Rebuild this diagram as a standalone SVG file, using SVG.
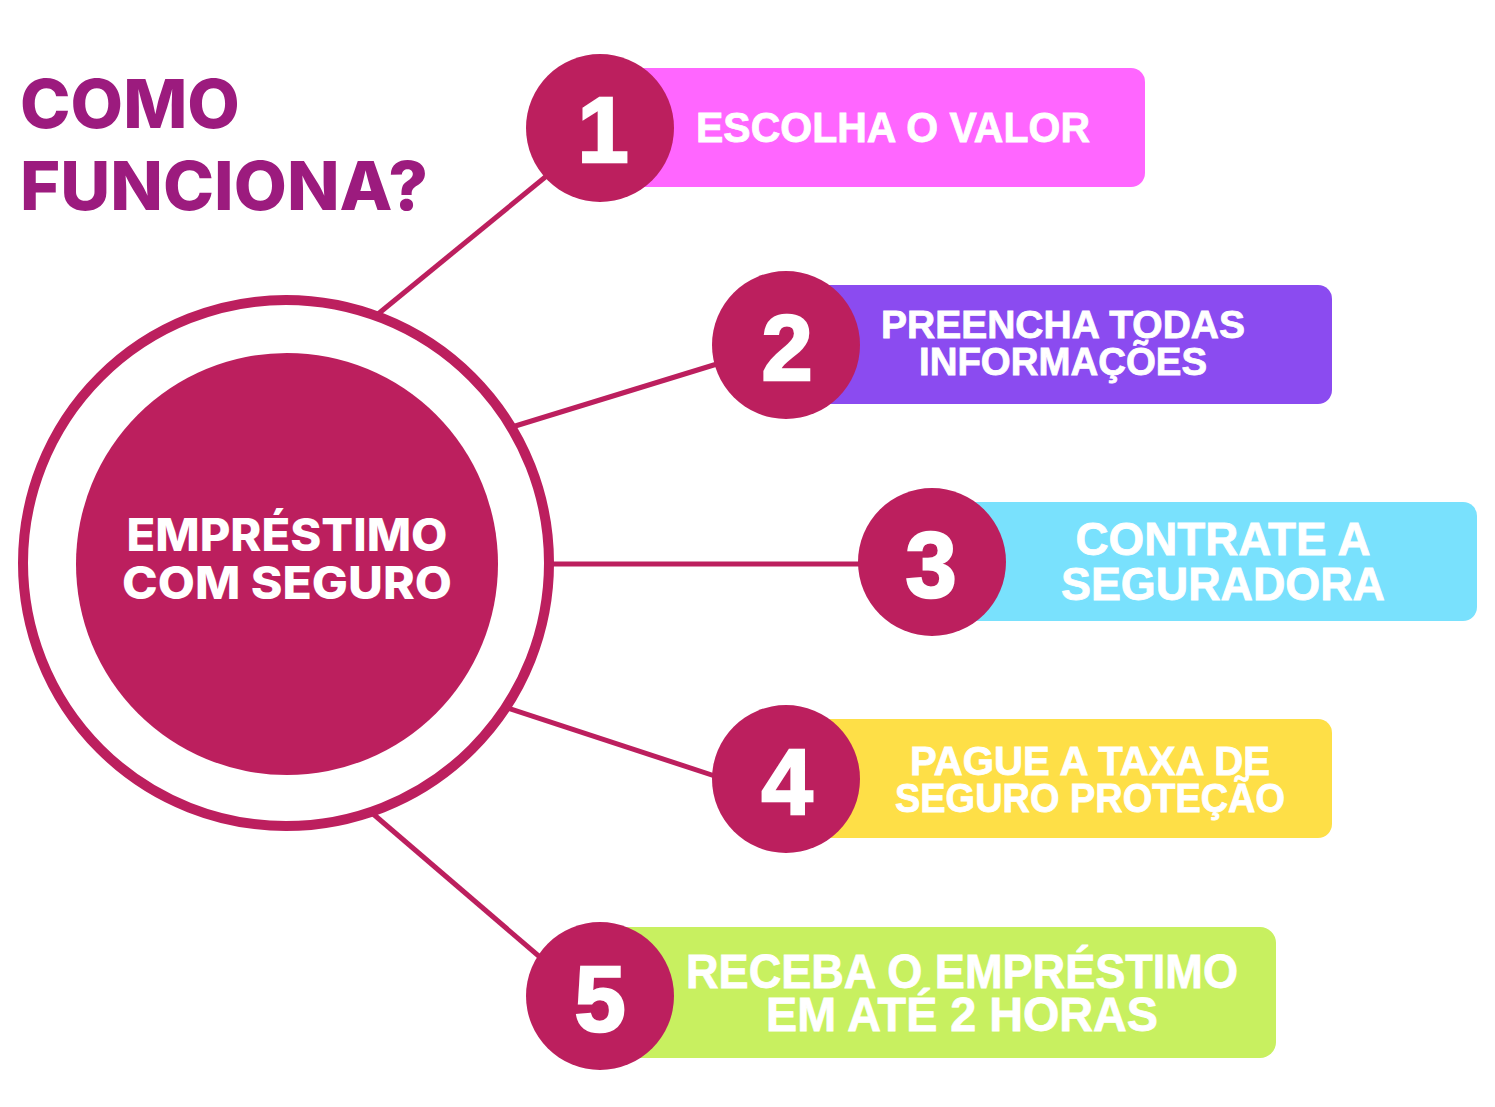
<svg xmlns="http://www.w3.org/2000/svg" width="1495" height="1107" viewBox="0 0 1495 1107">
<style>
.title{font-family:Inter,"Open Sans","Liberation Sans",sans-serif;font-weight:800;font-size:68px;fill:#9C1B7E}
.ctr{font-family:Inter,"Open Sans","Liberation Sans",sans-serif;font-weight:800;font-size:45px;fill:#fff;text-anchor:middle}
.num{font-family:"Liberation Sans",Arial,sans-serif;font-weight:700;font-size:92px;fill:#fff;stroke:#fff;stroke-width:2.5;text-anchor:middle}
.lbl{font-family:"Liberation Sans",Arial,sans-serif;font-weight:700;fill:#fff;stroke:#fff;stroke-width:0.8;text-anchor:middle}
.badge{fill:#BC1F5E}
.conn line{stroke:#BC1F5E;stroke-width:5}
</style>
<rect width="1495" height="1107" fill="#fff"/>
<g id="title">
<text class="title" x="20" y="128">COMO</text>
<text class="title" x="20" y="210" textLength="408" lengthAdjust="spacingAndGlyphs">FUNCIONA?</text>
</g>
<g id="connectors" class="conn">
<line x1="378" y1="314" x2="560" y2="165"/>
<line x1="512" y1="427" x2="730" y2="360"/>
<line x1="550" y1="564" x2="870" y2="564"/>
<line x1="508" y1="708" x2="730" y2="781"/>
<line x1="372" y1="813" x2="555" y2="970"/>
</g>
<g id="center">
<circle cx="286" cy="563" r="263" fill="none" stroke="#BC1F5E" stroke-width="10"/>
<circle cx="287" cy="564" r="211" fill="#BC1F5E"/>
<text class="ctr" x="287" y="551" textLength="321" lengthAdjust="spacingAndGlyphs">EMPRÉSTIMO</text>
<text class="ctr" x="287" y="599" textLength="330" lengthAdjust="spacingAndGlyphs">COM SEGURO</text>
</g>
<g id="step1">
<rect x="600" y="68" width="545" height="119" rx="14" fill="#FF66FF"/>
<circle class="badge" cx="600" cy="128" r="74"/>
<text class="num" x="603" y="162">1</text>
<text class="lbl" x="893" y="142" font-size="42" textLength="394" lengthAdjust="spacingAndGlyphs">ESCOLHA O VALOR</text>
</g>
<g id="step2">
<rect x="786" y="285" width="546" height="119" rx="14" fill="#8B4BF0"/>
<circle class="badge" cx="786" cy="345" r="74"/>
<text class="num" x="787" y="380">2</text>
<text class="lbl" x="1063" y="338" font-size="38" textLength="364" lengthAdjust="spacingAndGlyphs">PREENCHA TODAS</text>
<text class="lbl" x="1063" y="375" font-size="38" textLength="288" lengthAdjust="spacingAndGlyphs">INFORMAÇÕES</text>
</g>
<g id="step3">
<rect x="932" y="502" width="545" height="119" rx="14" fill="#79E1FD"/>
<circle class="badge" cx="932" cy="562" r="74"/>
<text class="num" x="931" y="597">3</text>
<text class="lbl" x="1223" y="555" font-size="46" textLength="295" lengthAdjust="spacingAndGlyphs">CONTRATE A</text>
<text class="lbl" x="1223" y="600" font-size="46" textLength="324" lengthAdjust="spacingAndGlyphs">SEGURADORA</text>
</g>
<g id="step4">
<rect x="786" y="719" width="546" height="119" rx="14" fill="#FEDF47"/>
<circle class="badge" cx="786" cy="779" r="74"/>
<text class="num" x="787" y="814">4</text>
<text class="lbl" x="1090" y="775" font-size="40" textLength="360" lengthAdjust="spacingAndGlyphs">PAGUE A TAXA DE</text>
<text class="lbl" x="1090" y="812" font-size="40" textLength="390" lengthAdjust="spacingAndGlyphs">SEGURO PROTEÇÃO</text>
</g>
<g id="step5">
<rect x="600" y="927" width="676" height="131" rx="16" fill="#C8F060"/>
<circle class="badge" cx="600" cy="996" r="74"/>
<text class="num" x="600" y="1031">5</text>
<text class="lbl" x="962" y="988" font-size="48" textLength="552" lengthAdjust="spacingAndGlyphs">RECEBA O EMPRÉSTIMO</text>
<text class="lbl" x="962" y="1031" font-size="48" textLength="392" lengthAdjust="spacingAndGlyphs">EM ATÉ 2 HORAS</text>
</g>
</svg>
